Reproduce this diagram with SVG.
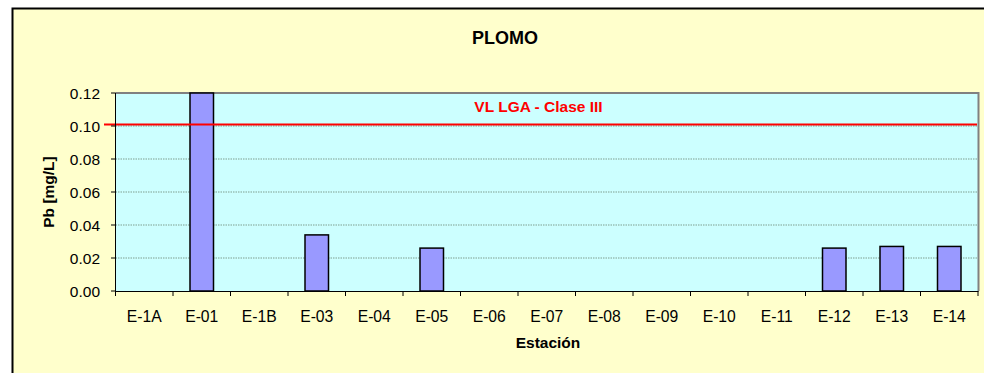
<svg xmlns="http://www.w3.org/2000/svg" width="984" height="373" viewBox="0 0 984 373">
<style>
.t{font-family:"Liberation Sans",Arial,sans-serif;fill:#000}
.tick{font-size:15.5px;text-anchor:end}
.cat{font-size:15.7px;text-anchor:middle}
.b{font-weight:bold}
.grid{stroke:#7f9f90;stroke-width:1;stroke-dasharray:1.5,1}
.bar{fill:#9999FF;stroke:#000;stroke-width:1.5}
.tk{stroke:#000;stroke-width:1}
</style>
<rect x="0" y="0" width="984" height="373" fill="#fff"/>
<rect id="chart-area" x="12.5" y="8.5" width="990" height="380" fill="#FFFFCC" stroke="#000" stroke-width="2"/>
<g id="title"><text class="t b" x="505" y="44" font-size="18" text-anchor="middle">PLOMO</text></g>
<g id="plot">
<rect x="115.5" y="93" width="862.5" height="198" fill="#CCFFFF"/>
<line class="grid" x1="115.5" y1="126" x2="978" y2="126"/>
<line class="grid" x1="115.5" y1="159" x2="978" y2="159"/>
<line class="grid" x1="115.5" y1="192" x2="978" y2="192"/>
<line class="grid" x1="115.5" y1="225" x2="978" y2="225"/>
<line class="grid" x1="115.5" y1="258" x2="978" y2="258"/>
<polyline points="115.5,93 978.5,93 978.5,291" fill="none" stroke="#808080" stroke-width="2"/>
</g>
<g id="bars">
<rect id="bar-E-01" class="bar" x="190" y="93" width="23.5" height="198"/>
<rect id="bar-E-03" class="bar" x="305" y="234.9" width="23.5" height="56.1"/>
<rect id="bar-E-05" class="bar" x="420" y="248.1" width="23.5" height="42.9"/>
<rect id="bar-E-12" class="bar" x="822.5" y="248.1" width="23.5" height="42.9"/>
<rect id="bar-E-13" class="bar" x="880" y="246.45" width="23.5" height="44.55"/>
<rect id="bar-E-14" class="bar" x="937.5" y="246.45" width="23.5" height="44.55"/>
</g>
<g id="limit-line">
<line x1="104" y1="124.5" x2="977" y2="124.5" stroke="#FF0000" stroke-width="2"/>
<text class="t b" x="538.5" y="111.5" font-size="15.5" text-anchor="middle" style="fill:#FF0000">VL LGA - Clase III</text>
</g>
<g id="axes">
<line class="tk" x1="115.5" y1="93" x2="115.5" y2="291.5" stroke-width="1.5"/>
<line class="tk" x1="115" y1="291.5" x2="978.5" y2="291.5" stroke-width="1.5"/>
<path class="tk" fill="none" d="M111,93H115.5M111,126H115.5M111,159H115.5M111,192H115.5M111,225H115.5M111,258H115.5M111,291H115.5
M115.5,291V296M173,291V296M230.5,291V296M288,291V296M345.5,291V296M403,291V296M460.5,291V296M518,291V296M575.5,291V296M633,291V296M690.5,291V296M748,291V296M805.5,291V296M863,291V296M920.5,291V296M978,291V296"/>
</g>
<g id="y-ticks">
<text class="t tick" x="100" y="98.5">0.12</text>
<text class="t tick" x="100" y="131.5">0.10</text>
<text class="t tick" x="100" y="164.5">0.08</text>
<text class="t tick" x="100" y="197.5">0.06</text>
<text class="t tick" x="100" y="230.5">0.04</text>
<text class="t tick" x="100" y="263.5">0.02</text>
<text class="t tick" x="100" y="296.5">0.00</text>
</g>
<g id="x-labels">
<text class="t cat" x="144.25" y="322">E-1A</text>
<text class="t cat" x="201.75" y="322">E-01</text>
<text class="t cat" x="259.25" y="322">E-1B</text>
<text class="t cat" x="316.75" y="322">E-03</text>
<text class="t cat" x="374.25" y="322">E-04</text>
<text class="t cat" x="431.75" y="322">E-05</text>
<text class="t cat" x="489.25" y="322">E-06</text>
<text class="t cat" x="546.75" y="322">E-07</text>
<text class="t cat" x="604.25" y="322">E-08</text>
<text class="t cat" x="661.75" y="322">E-09</text>
<text class="t cat" x="719.25" y="322">E-10</text>
<text class="t cat" x="776.75" y="322">E-11</text>
<text class="t cat" x="834.25" y="322">E-12</text>
<text class="t cat" x="891.75" y="322">E-13</text>
<text class="t cat" x="949.25" y="322">E-14</text>
</g>
<g id="axis-titles">
<text class="t b" x="548" y="347.5" font-size="15.5" text-anchor="middle">Estación</text>
<text class="t b" transform="translate(53.5,192) rotate(-90)" x="0" y="0" font-size="15.5" text-anchor="middle">Pb [mg/L]</text>
</g>
</svg>
